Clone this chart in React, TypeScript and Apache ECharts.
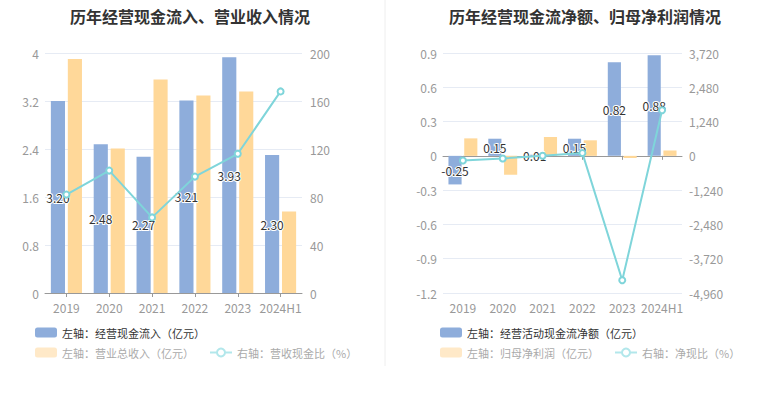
import React, { useEffect, useRef } from "react";
import * as echarts from "echarts";

const years = ["2019", "2020", "2021", "2022", "2023", "2024H1"];
// Left chart
const cashInflow = [3.2, 2.48, 2.27, 3.21, 3.93, 2.3];
const revenue = [3.9, 2.41, 3.56, 3.29, 3.36, 1.36];
const cashRevenueRatio = [82, 102, 63, 97, 116, 168];
// Right chart
const netCashFlow = [-0.25, 0.15, 0.01, 0.15, 0.82, 0.88];
const netProfit = [0.153, -0.165, 0.165, 0.136, -0.019, 0.047];
const netCashRatio = [-165, -95, 6, 100, -4500, 1650];

const leftTicks = { min: 0, max: 4, interval: 0.8 };
const leftTicksR = { min: 0, max: 200, interval: 40 };
const rightTicks = { min: -1.2, max: 0.9, interval: 0.3 };
const rightTicksR = { min: -4960, max: 3720, interval: 1240 };

const BLUE = "#8EADDB";
const ORANGE = "#FFD899";
const CYAN = "#7FD5DA";
const CYAN_LIGHT = "#B2E7EB";
const FONT = "'Noto Sans CJK SC', 'Noto Sans', sans-serif";

const N1 = "左轴：经营现金流入（亿元）";
const N2 = "左轴：营业总收入（亿元）";
const N3 = "右轴：营收现金比（%）";
const M1 = "左轴：经营活动现金流净额（亿元）";
const M2 = "左轴：归母净利润（亿元）";
const M3 = "右轴：净现比（%）";

export default function App() {
  const ref = useRef<HTMLDivElement>(null);
  useEffect(() => {
    document.body.style.margin = "0";
    const chart = echarts.init(ref.current!, null, { renderer: "svg" });
    const axisLabel = { color: "#999", fontSize: 12, fontFamily: FONT };
    const splitLine = { show: true, lineStyle: { color: "#E6EBF4", width: 1 } };
    const barLabel = {
      show: true,
      position: "inside",
      color: "#333",
      fontSize: 12,
      fontFamily: FONT,
      textBorderColor: "#fff",
      textBorderWidth: 2,
      formatter: (p: any) => Number(p.value).toFixed(2),
    };
    const legendText = { fontSize: 11, fontFamily: FONT };
    const legendBase = {
      itemWidth: 22,
      itemHeight: 10,
      itemGap: 15,
      orient: "horizontal",
      selectedMode: false,
    };
    const lineLegendItem = (name: string) => ({
      name,
      itemStyle: { color: CYAN_LIGHT },
      lineStyle: { color: CYAN_LIGHT },
    });
    const lineSeries = (name: string, data: number[], xi: number, yi: number) => ({
      name,
      type: "line",
      data,
      xAxisIndex: xi,
      yAxisIndex: yi,
      symbol: "emptyCircle",
      symbolSize: 6,
      lineStyle: { color: CYAN, width: 2 },
      itemStyle: { color: CYAN, borderWidth: 1.5 },
      z: 5,
    });
    chart.setOption({
      animation: false,
      textStyle: { fontFamily: FONT },
      title: [
        {
          text: "历年经营现金流入、营业收入情况",
          left: 185,
          top: 3,
          textAlign: "center",
          textStyle: { fontSize: 16, fontWeight: "bold", color: "#333", fontFamily: FONT },
        },
        {
          text: "历年经营现金流净额、归母净利润情况",
          left: 580,
          top: 3,
          textAlign: "center",
          textStyle: { fontSize: 16, fontWeight: "bold", color: "#333", fontFamily: FONT },
        },
      ],
      graphic: [
        {
          type: "line",
          shape: { x1: 385, y1: 0, x2: 385, y2: 366 },
          style: { stroke: "#EEEEEE", lineWidth: 1 },
        },
      ],
      legend: [
        {
          ...legendBase,
          left: 30,
          top: 322,
          data: [{ name: N1, icon: "roundRect", itemStyle: { color: BLUE } }],
          textStyle: { ...legendText, color: "#333" },
        },
        {
          ...legendBase,
          left: 30,
          top: 342,
          data: [
            { name: N2, icon: "roundRect", itemStyle: { color: "#FFE9C8" } },
            lineLegendItem(N3),
          ],
          textStyle: { ...legendText, color: "#AAA" },
        },
        {
          ...legendBase,
          left: 435,
          top: 322,
          data: [{ name: M1, icon: "roundRect", itemStyle: { color: BLUE } }],
          textStyle: { ...legendText, color: "#333" },
        },
        {
          ...legendBase,
          left: 435,
          top: 342,
          data: [
            { name: M2, icon: "roundRect", itemStyle: { color: "#FFE9C8" } },
            lineLegendItem(M3),
          ],
          textStyle: { ...legendText, color: "#AAA" },
        },
      ],
      grid: [
        { left: 45, width: 257, top: 53, height: 240 },
        { left: 443, width: 239, top: 53, height: 240 },
      ],
      xAxis: [
        {
          type: "category",
          gridIndex: 0,
          data: years,
          axisLine: { show: true, lineStyle: { color: "#999" } },
          axisTick: { show: true, alignWithLabel: true, length: 4, lineStyle: { color: "#999" } },
          axisLabel: { ...axisLabel, margin: 8, interval: 0 },
        },
        {
          type: "category",
          gridIndex: 1,
          data: years,
          position: "bottom",
          axisLine: { show: false, onZero: false },
          axisTick: { show: false },
          axisLabel: { ...axisLabel, margin: 8, interval: 0 },
        },
        {
          type: "category",
          gridIndex: 1,
          data: years,
          position: "bottom",
          axisLine: { show: true, onZero: true, onZeroAxisIndex: 2, lineStyle: { color: "#999" } },
          axisTick: { show: true, alignWithLabel: true, interval: 0, length: 4, lineStyle: { color: "#999" } },
          axisLabel: { show: false },
        },
      ],
      yAxis: [
        {
          type: "value",
          gridIndex: 0,
          ...leftTicks,
          axisLine: { show: false },
          axisTick: { show: false },
          axisLabel: { ...axisLabel, margin: 6 },
          splitLine,
        },
        {
          type: "value",
          gridIndex: 0,
          position: "right",
          ...leftTicksR,
          axisLine: { show: false },
          axisTick: { show: false },
          axisLabel: { ...axisLabel, margin: 8 },
          splitLine: { show: false },
        },
        {
          type: "value",
          gridIndex: 1,
          ...rightTicks,
          axisLine: { show: false },
          axisTick: { show: false },
          axisLabel: { ...axisLabel, margin: 6 },
          splitLine,
        },
        {
          type: "value",
          gridIndex: 1,
          position: "right",
          ...rightTicksR,
          axisLine: { show: false },
          axisTick: { show: false },
          axisLabel: { ...axisLabel, margin: 7 },
          splitLine: { show: false },
        },
      ],
      series: [
        {
          name: N1,
          type: "bar",
          data: cashInflow,
          xAxisIndex: 0,
          yAxisIndex: 0,
          barWidth: "33%",
          barGap: "20%",
          itemStyle: { color: BLUE },
          label: barLabel,
          z: 2,
        },
        {
          name: N2,
          type: "bar",
          data: revenue,
          xAxisIndex: 0,
          yAxisIndex: 0,
          barWidth: "33%",
          barGap: "20%",
          itemStyle: { color: ORANGE },
          z: 2,
        },
        lineSeries(N3, cashRevenueRatio, 0, 1),
        {
          name: M1,
          type: "bar",
          data: netCashFlow,
          xAxisIndex: 1,
          yAxisIndex: 2,
          barWidth: "33%",
          barGap: "20%",
          itemStyle: { color: BLUE },
          label: barLabel,
          z: 2,
        },
        {
          name: M2,
          type: "bar",
          data: netProfit,
          xAxisIndex: 1,
          yAxisIndex: 2,
          barWidth: "33%",
          barGap: "20%",
          itemStyle: { color: ORANGE },
          z: 2,
        },
        lineSeries(M3, netCashRatio, 1, 3),
      ],
    } as any);
    return () => chart.dispose();
  }, []);
  return <div ref={ref} style={{ width: 765, height: 393 }} />;
}
